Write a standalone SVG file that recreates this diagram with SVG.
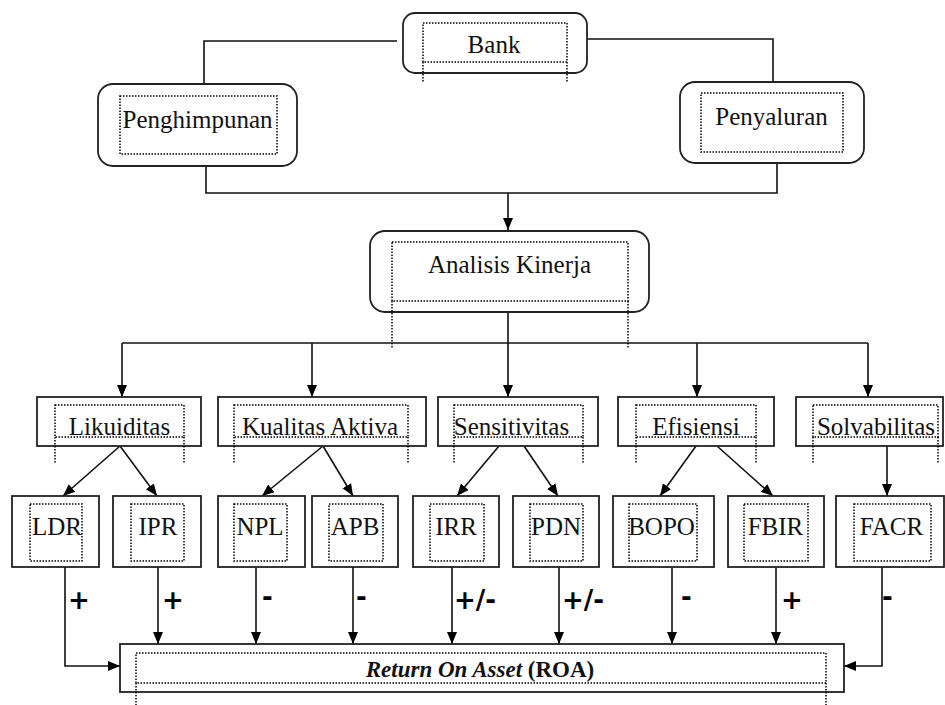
<svg xmlns="http://www.w3.org/2000/svg" width="945" height="705" viewBox="0 0 945 705">
<style>
.box{fill:#fff;stroke:#222;stroke-width:1.8}
.dot{fill:none;stroke:#000;stroke-width:1.5;stroke-dasharray:1.5 1.5}
.ln{fill:none;stroke:#111;stroke-width:1.6}
.lbl{font-family:"Liberation Serif","Times New Roman",serif;font-size:25px;fill:#111;text-anchor:middle}
.sg{font-family:"DejaVu Sans",Verdana,sans-serif;font-weight:bold;font-size:26px;fill:#000}
</style>
<defs>
<marker id="ah" viewBox="0 0 12 12" refX="12" refY="6" markerWidth="12" markerHeight="12" markerUnits="userSpaceOnUse" orient="auto">
<path d="M0,1 L12,6 L0,11 Z" fill="#000"/>
</marker>
</defs>

<g id="connectors">
<path class="ln" d="M397,41 H204 V84"/>
<path class="ln" d="M587,39 H773 V82"/>
<path class="ln" d="M206,166 V193 H777 V163"/>
<path class="ln" d="M508,193 V230" marker-end="url(#ah)"/>
<path class="ln" d="M508,312 V397" marker-end="url(#ah)"/>
<path class="ln" d="M122,343 H868"/>
<path class="ln" d="M122,343 V397" marker-end="url(#ah)"/>
<path class="ln" d="M312,343 V397" marker-end="url(#ah)"/>
<path class="ln" d="M697,343 V397" marker-end="url(#ah)"/>
<path class="ln" d="M868,343 V397" marker-end="url(#ah)"/>
<path class="ln" d="M120,446 L63,496" marker-end="url(#ah)"/>
<path class="ln" d="M120,446 L157,496" marker-end="url(#ah)"/>
<path class="ln" d="M323,446 L262,496" marker-end="url(#ah)"/>
<path class="ln" d="M323,446 L353,496" marker-end="url(#ah)"/>
<path class="ln" d="M499,446 L457,496" marker-end="url(#ah)"/>
<path class="ln" d="M524,446 L558,496" marker-end="url(#ah)"/>
<path class="ln" d="M696,446 L660,496" marker-end="url(#ah)"/>
<path class="ln" d="M717,446 L773,496" marker-end="url(#ah)"/>
<path class="ln" d="M887,446 V496" marker-end="url(#ah)"/>
<path class="ln" d="M65,567 V666 H120" marker-end="url(#ah)"/>
<path class="ln" d="M158,567 V644" marker-end="url(#ah)"/>
<path class="ln" d="M256,567 V644" marker-end="url(#ah)"/>
<path class="ln" d="M353,567 V644" marker-end="url(#ah)"/>
<path class="ln" d="M452,567 V644" marker-end="url(#ah)"/>
<path class="ln" d="M559,567 V644" marker-end="url(#ah)"/>
<path class="ln" d="M672,567 V644" marker-end="url(#ah)"/>
<path class="ln" d="M776,567 V644" marker-end="url(#ah)"/>
<path class="ln" d="M882,564 V666 H844" marker-end="url(#ah)"/>
<text class="sg" x="68" y="609">+</text>
<text class="sg" x="162" y="609">+</text>
<text class="sg" x="262" y="606">-</text>
<text class="sg" x="356" y="606">-</text>
<text class="sg" x="454" y="609">+/-</text>
<text class="sg" x="562" y="609">+/-</text>
<text class="sg" x="681" y="606">-</text>
<text class="sg" x="781" y="609">+</text>
<text class="sg" x="882" y="606">-</text>
</g>

<g id="bank">
<rect class="box" x="403" y="13" width="184" height="60" rx="12"/>
<rect class="dot" x="423" y="23" width="144" height="39"/>
<path class="dot" d="M423,62 V82 M567,62 V82"/>
<text class="lbl" x="494" y="53">Bank</text>
</g>

<g id="penghimpunan">
<rect class="box" x="98" y="84" width="199" height="82" rx="15"/>
<rect class="dot" x="120" y="96" width="157" height="58"/>
<text class="lbl" x="197.5" y="128">Penghimpunan</text>
</g>

<g id="penyaluran">
<rect class="box" x="680" y="82" width="184" height="81" rx="15"/>
<rect class="dot" x="701" y="93" width="142" height="59"/>
<text class="lbl" x="771.5" y="125">Penyaluran</text>
</g>

<g id="analisis">
<rect class="box" x="370" y="231" width="279" height="81" rx="15"/>
<rect class="dot" x="392" y="242" width="236" height="59"/>
<path class="dot" d="M392,301 V348 M628,301 V348"/>
<text class="lbl" x="509.5" y="273">Analisis Kinerja</text>
</g>

<g id="likuiditas">
<rect class="box" x="37" y="397" width="164" height="49"/>
<rect class="dot" x="55" y="405" width="129" height="32"/>
<path class="dot" d="M55,437 V463 M184,437 V463"/>
<text class="lbl" x="119.5" y="435">Likuiditas</text>
</g>

<g id="kualitas">
<rect class="box" x="218" y="397" width="208" height="49"/>
<rect class="dot" x="234" y="405" width="174" height="32"/>
<path class="dot" d="M234,437 V463 M408,437 V463"/>
<text class="lbl" x="320" y="435">Kualitas Aktiva</text>
</g>

<g id="sensitivitas">
<rect class="box" x="438" y="397" width="160" height="49"/>
<rect class="dot" x="454" y="405" width="129" height="32"/>
<path class="dot" d="M454,437 V463 M583,437 V463"/>
<text class="lbl" x="511.5" y="435">Sensitivitas</text>
</g>

<g id="efisiensi">
<rect class="box" x="618" y="397" width="156" height="49"/>
<rect class="dot" x="636" y="405" width="120" height="32"/>
<path class="dot" d="M636,437 V463 M756,437 V463"/>
<text class="lbl" x="696" y="435">Efisiensi</text>
</g>

<g id="solvabilitas">
<rect class="box" x="796" y="397" width="147" height="49"/>
<rect class="dot" x="813" y="405" width="125" height="32"/>
<path class="dot" d="M813,437 V463 M938,437 V463"/>
<text class="lbl" x="876" y="435">Solvabilitas</text>
</g>

<g id="ldr">
<rect class="box" x="12" y="496" width="87" height="71"/>
<rect class="dot" x="30" y="504" width="52" height="57"/>
<text class="lbl" x="57" y="535">LDR</text>
</g>
<g id="ipr">
<rect class="box" x="113" y="496" width="88" height="71"/>
<rect class="dot" x="131" y="504" width="53" height="57"/>
<text class="lbl" x="158" y="535">IPR</text>
</g>
<g id="npl">
<rect class="box" x="218" y="496" width="87" height="71"/>
<rect class="dot" x="234" y="504" width="53" height="57"/>
<text class="lbl" x="260" y="535">NPL</text>
</g>
<g id="apb">
<rect class="box" x="312" y="496" width="86" height="71"/>
<rect class="dot" x="329" y="504" width="54" height="57"/>
<text class="lbl" x="355" y="535">APB</text>
</g>
<g id="irr">
<rect class="box" x="413" y="496" width="86" height="71"/>
<rect class="dot" x="430" y="504" width="54" height="57"/>
<text class="lbl" x="456" y="535">IRR</text>
</g>
<g id="pdn">
<rect class="box" x="513" y="496" width="86" height="71"/>
<rect class="dot" x="530" y="504" width="53" height="57"/>
<text class="lbl" x="556" y="535">PDN</text>
</g>
<g id="bopo">
<rect class="box" x="613" y="496" width="101" height="71"/>
<rect class="dot" x="629" y="504" width="68" height="57"/>
<text class="lbl" x="661.5" y="535">BOPO</text>
</g>
<g id="fbir">
<rect class="box" x="728" y="496" width="96" height="71"/>
<rect class="dot" x="744" y="504" width="64" height="57"/>
<text class="lbl" x="775.5" y="535">FBIR</text>
</g>
<g id="facr">
<rect class="box" x="836" y="496" width="108" height="71"/>
<rect class="dot" x="854" y="504" width="77" height="57"/>
<text class="lbl" x="891.5" y="535">FACR</text>
</g>

<g id="roa">
<rect class="box" x="120" y="644" width="724" height="48"/>
<rect class="dot" x="136" y="653" width="690" height="30"/>
<path class="dot" d="M136,683 V705 M826,683 V705"/>
<text class="lbl" x="480" y="677" style="font-size:23px;font-weight:bold"><tspan font-style="italic">Return On Asset</tspan> (ROA)</text>
</g>
</svg>
